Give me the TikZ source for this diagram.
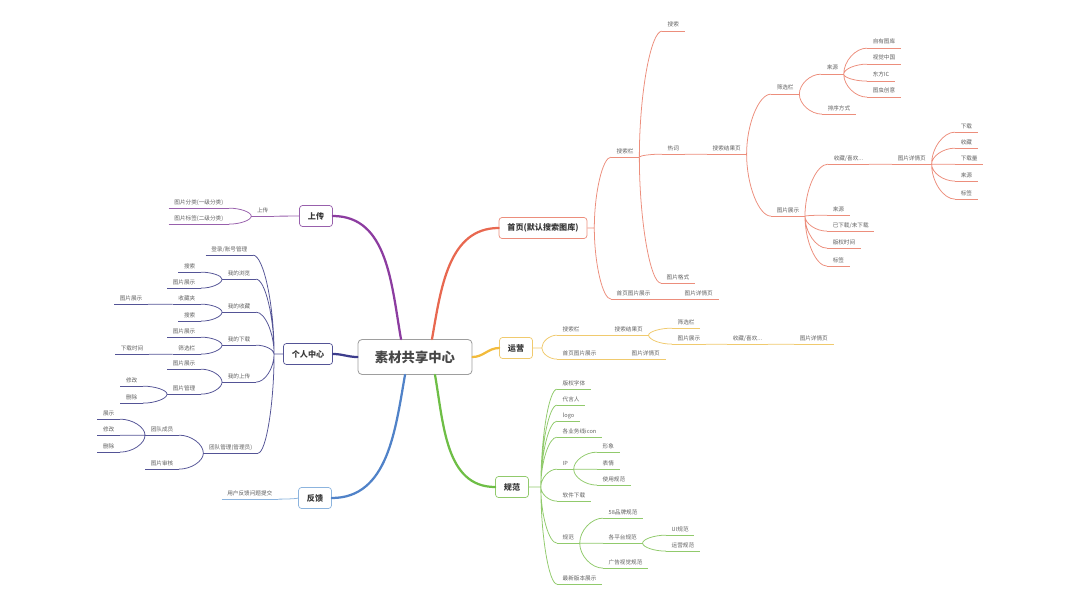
\documentclass[tikz,border=0pt]{standalone}
\usepackage{fontspec}
\setmainfont{Noto Sans CJK SC}
\usetikzlibrary{calc}

\definecolor{txtc}{RGB}{95,95,95}
\definecolor{homec}{RGB}{232,104,80}
\definecolor{homel}{RGB}{236,142,124}
\definecolor{opsc}{RGB}{242,187,60}
\definecolor{opsl}{RGB}{240,202,110}
\definecolor{stdc}{RGB}{110,190,70}
\definecolor{stdl}{RGB}{145,202,108}
\definecolor{uplc}{RGB}{140,60,160}
\definecolor{upll}{RGB}{152,96,172}
\definecolor{mec}{RGB}{60,60,140}
\definecolor{mel}{RGB}{84,84,150}
\definecolor{fbc}{RGB}{80,130,200}
\definecolor{fbl}{RGB}{140,180,222}

\tikzset{
  leaf/.style={font=\fontsize{8}{9}\selectfont, text=txtc,
    inner xsep=0.28cm, inner ysep=0.15cm, text height=0.25cm, text depth=0.05cm,
    append after command={(\tikzlastnode.south west) edge[draw=#1, line width=1.1pt] (\tikzlastnode.south east)}},
  rleaf/.style={leaf=#1, anchor=west},
  lleaf/.style={leaf=#1, anchor=east},
  elbow/.style={to path={.. controls ($(\tikztostart)!0.5!(\tikztostart |- \tikztotarget)$)
      and ($(\tikztostart |- \tikztotarget)!0.5!(\tikztotarget)$) .. (\tikztotarget)}},
  sub/.style={draw=#1, line width=1.1pt},
  mainline/.style={draw=#1, line width=3.2pt, line cap=round},
  branch/.style={draw=#1, line width=1pt, fill=white, rounded corners=0.15cm,
    font=\fontsize{11.5}{12}\selectfont\bfseries, text=black!78,
    inner xsep=0.42cm, minimum height=1.05cm},
  hub/.style={draw=black!38, line width=1.2pt, fill=white, rounded corners=0.2cm,
    font=\fontsize{19}{20}\selectfont\bfseries, text=black!72,
    minimum width=5.7cm, minimum height=1.75cm}
}

\begin{document}
\begin{tikzpicture}[x=0.05cm, y=-0.05cm]
  \path[use as bounding box] (0,0) rectangle (1080,603);

  % Center and branches
  \node[hub] (ctr) at (415,357) {素材共享中心};
  \node[branch=homel] (home) at (543,228) {首页(默认搜索图库)};
  \node[branch=opsl] (ops) at (516,348) {运营};
  \node[branch=stdl] (std) at (512,487) {规范};
  \node[branch=upll] (upl) at (316,216) {上传};
  \node[branch=mel] (me) at (308,354) {个人中心};
  \node[branch=fbl] (fb) at (315,498) {反馈};

  \draw[mainline=homec] ([xshift=0.85cm]ctr.north) to[out=80,in=180] (home.west);
  \draw[mainline=uplc] ([xshift=-0.7cm]ctr.north) to[out=100,in=0] (upl.east);
  \draw[mainline=mec] (ctr.west) to[out=180,in=0] (me.east);
  \draw[mainline=opsc] (ctr.east) to[out=0,in=180] (ops.west);
  \draw[mainline=fbc] ([xshift=-0.5cm]ctr.south) to[out=-100,in=0] (fb.east);
  \draw[mainline=stdc] ([xshift=1cm]ctr.south) to[out=-80,in=180] (std.west);

  \coordinate (homej) at ([xshift=0.35cm]home.east);
  \coordinate (opsj) at ([xshift=0.45cm]ops.east);
  \coordinate (stdj) at ([xshift=0.6cm]std.east);
  \coordinate (mej) at ([xshift=-0.45cm]me.west);

  % 首页
  \node[rleaf=homel] (hbar) at (611,151) {搜索栏};
  \node[rleaf=homel] (hsearch) at (662,25) {搜索};
  \node[rleaf=homel] (hhot) at (662,148) {热词};
  \node[rleaf=homel] (hres) at (707,148) {搜索结果页};
  \node[rleaf=homel] (hfilter) at (771,88) {筛选栏};
  \node[rleaf=homel] (hsrc) at (821,68) {来源};
  \node[rleaf=homel] (hsrc1) at (867,42) {自有图库};
  \node[rleaf=homel] (hsrc2) at (867,58) {视觉中国};
  \node[rleaf=homel] (hsrc3) at (867,75) {东方IC};
  \node[rleaf=homel] (hsrc4) at (867,91) {图虫创意};
  \node[rleaf=homel] (hsort) at (822,108) {排序方式};
  \node[rleaf=homel] (hshow) at (771,210) {图片展示};
  \node[rleaf=homel] (hfav) at (828,158) {收藏/喜欢...};
  \node[rleaf=homel] (hdet) at (892,158) {图片详情页};
  \node[rleaf=homel] (hd1) at (955,126) {下载};
  \node[rleaf=homel] (hd2) at (955,142) {收藏};
  \node[rleaf=homel] (hd3) at (955,158) {下载量};
  \node[rleaf=homel] (hd4) at (955,175) {来源};
  \node[rleaf=homel] (hd5) at (955,193) {标签};
  \node[rleaf=homel] (hs1) at (827,209) {来源};
  \node[rleaf=homel] (hs2) at (827,225) {已下载/未下载};
  \node[rleaf=homel] (hs3) at (827,242) {版权时间};
  \node[rleaf=homel] (hs4) at (827,260) {标签};
  \node[rleaf=homel] (hfmt) at (661,277) {图片格式};
  \node[rleaf=homel] (hhome) at (611,293) {首页图片展示};
  \node[rleaf=homel] (hhdet) at (679,293) {图片详情页};

  \draw[sub=homel] (home.east) -- (homej)
    (homej) to[elbow] (hbar.south west)
    (homej) to[elbow] (hhome.south west);
  \draw[sub=homel] (hbar.south east) to[elbow] (hsearch.south west)
    (hbar.south east) to[elbow] (hhot.south west)
    (hbar.south east) to[elbow] (hfmt.south west);
  \draw[sub=homel] (hhot.south east) to[elbow] (hres.south west);
  \draw[sub=homel] (hres.south east) to[elbow] (hfilter.south west)
    (hres.south east) to[elbow] (hshow.south west);
  \draw[sub=homel] (hfilter.south east) to[elbow] (hsrc.south west)
    (hfilter.south east) to[elbow] (hsort.south west);
  \draw[sub=homel] (hsrc.south east) to[elbow] (hsrc1.south west)
    (hsrc.south east) to[elbow] (hsrc2.south west)
    (hsrc.south east) to[elbow] (hsrc3.south west)
    (hsrc.south east) to[elbow] (hsrc4.south west);
  \draw[sub=homel] (hshow.south east) to[elbow] (hfav.south west)
    (hshow.south east) to[elbow] (hs1.south west)
    (hshow.south east) to[elbow] (hs2.south west)
    (hshow.south east) to[elbow] (hs3.south west)
    (hshow.south east) to[elbow] (hs4.south west);
  \draw[sub=homel] (hfav.south east) to[elbow] (hdet.south west);
  \draw[sub=homel] (hdet.south east) to[elbow] (hd1.south west)
    (hdet.south east) to[elbow] (hd2.south west)
    (hdet.south east) to[elbow] (hd3.south west)
    (hdet.south east) to[elbow] (hd4.south west)
    (hdet.south east) to[elbow] (hd5.south west);
  \draw[sub=homel] (hhome.south east) to[elbow] (hhdet.south west);

  % 运营
  \node[rleaf=opsl] (obar) at (557,329) {搜索栏};
  \node[rleaf=opsl] (ores) at (609,329) {搜索结果页};
  \node[rleaf=opsl] (ofilter) at (672,322) {筛选栏};
  \node[rleaf=opsl] (oshow) at (672,338) {图片展示};
  \node[rleaf=opsl] (ofav) at (727,338) {收藏/喜欢...};
  \node[rleaf=opsl] (odet) at (794,338) {图片详情页};
  \node[rleaf=opsl] (ohome) at (557,353) {首页图片展示};
  \node[rleaf=opsl] (ohdet) at (626,353) {图片详情页};

  \draw[sub=opsl] (ops.east) -- (opsj)
    (opsj) to[elbow] (obar.south west)
    (opsj) to[elbow] (ohome.south west);
  \draw[sub=opsl] (obar.south east) to[elbow] (ores.south west);
  \draw[sub=opsl] (ores.south east) to[elbow] (ofilter.south west)
    (ores.south east) to[elbow] (oshow.south west);
  \draw[sub=opsl] (oshow.south east) to[elbow] (ofav.south west);
  \draw[sub=opsl] (ofav.south east) to[elbow] (odet.south west);
  \draw[sub=opsl] (ohome.south east) to[elbow] (ohdet.south west);

  % 规范
  \node[rleaf=stdl] (s1) at (557,383) {版权字体};
  \node[rleaf=stdl] (s2) at (557,399) {代言人};
  \node[rleaf=stdl] (s3) at (557,415) {logo};
  \node[rleaf=stdl] (s4) at (557,431) {各业务线icon};
  \node[rleaf=stdl] (s5) at (557,463) {IP};
  \node[rleaf=stdl] (s51) at (597,446) {形象};
  \node[rleaf=stdl] (s52) at (597,463) {表情};
  \node[rleaf=stdl] (s53) at (597,479) {使用规范};
  \node[rleaf=stdl] (s6) at (557,495) {软件下载};
  \node[rleaf=stdl] (s7) at (557,537) {规范};
  \node[rleaf=stdl] (s71) at (603,512) {58品牌规范};
  \node[rleaf=stdl] (s72) at (603,537) {各平台规范};
  \node[rleaf=stdl] (s721) at (666,529) {UI规范};
  \node[rleaf=stdl] (s722) at (666,545) {运营规范};
  \node[rleaf=stdl] (s73) at (603,562) {广告视觉规范};
  \node[rleaf=stdl] (s8) at (557,578) {最新版本展示};

  \draw[sub=stdl] (std.east) -- (stdj)
    (stdj) to[elbow] (s1.south west)
    (stdj) to[elbow] (s2.south west)
    (stdj) to[elbow] (s3.south west)
    (stdj) to[elbow] (s4.south west)
    (stdj) to[elbow] (s5.south west)
    (stdj) to[elbow] (s6.south west)
    (stdj) to[elbow] (s7.south west)
    (stdj) to[elbow] (s8.south west);
  \draw[sub=stdl] (s5.south east) to[elbow] (s51.south west)
    (s5.south east) to[elbow] (s52.south west)
    (s5.south east) to[elbow] (s53.south west);
  \draw[sub=stdl] (s7.south east) to[elbow] (s71.south west)
    (s7.south east) to[elbow] (s72.south west)
    (s7.south east) to[elbow] (s73.south west);
  \draw[sub=stdl] (s72.south east) to[elbow] (s721.south west)
    (s72.south east) to[elbow] (s722.south west);

  % 上传
  \node[lleaf=upll] (uup) at (274,210) {上传};
  \node[lleaf=upll] (uc1) at (229,202) {图片分类(一级分类)};
  \node[lleaf=upll] (uc2) at (229,218) {图片标签(二级分类)};

  \draw[sub=upll] (upl.west) to[elbow] (uup.south east);
  \draw[sub=upll] (uup.south west) to[elbow] (uc1.south east)
    (uup.south west) to[elbow] (uc2.south east);

  % 个人中心
  \node[lleaf=mel] (m1) at (253,249) {登录/账号管理};
  \node[lleaf=mel] (m2) at (256,273) {我的浏览};
  \node[lleaf=mel] (m21) at (201,266) {搜索};
  \node[lleaf=mel] (m22) at (201,282) {图片展示};
  \node[lleaf=mel] (m3) at (256,306) {我的收藏};
  \node[lleaf=mel] (m31) at (201,298) {收藏夹};
  \node[lleaf=mel] (m311) at (148,298) {图片展示};
  \node[lleaf=mel] (m32) at (201,315) {搜索};
  \node[lleaf=mel] (m4) at (256,339) {我的下载};
  \node[lleaf=mel] (m41) at (201,331) {图片展示};
  \node[lleaf=mel] (m42) at (201,348) {筛选栏};
  \node[lleaf=mel] (m421) at (149,348) {下载时间};
  \node[lleaf=mel] (m5) at (256,376) {我的上传};
  \node[lleaf=mel] (m51) at (201,363) {图片展示};
  \node[lleaf=mel] (m52) at (201,388) {图片管理};
  \node[lleaf=mel] (m521) at (143,380) {修改};
  \node[lleaf=mel] (m522) at (143,397) {删除};
  \node[lleaf=mel] (m6) at (258,447) {团队管理(管理员)};
  \node[lleaf=mel] (m61) at (179,429) {团队成员};
  \node[lleaf=mel] (m611) at (120,413) {展示};
  \node[lleaf=mel] (m612) at (120,429) {修改};
  \node[lleaf=mel] (m613) at (120,446) {删除};
  \node[lleaf=mel] (m62) at (179,463) {图片审核};

  \draw[sub=mel] (me.west) -- (mej)
    (mej) to[elbow] (m1.south east)
    (mej) to[elbow] (m2.south east)
    (mej) to[elbow] (m3.south east)
    (mej) to[elbow] (m4.south east)
    (mej) to[elbow] (m5.south east)
    (mej) to[elbow] (m6.south east);
  \draw[sub=mel] (m2.south west) to[elbow] (m21.south east)
    (m2.south west) to[elbow] (m22.south east);
  \draw[sub=mel] (m3.south west) to[elbow] (m31.south east)
    (m3.south west) to[elbow] (m32.south east);
  \draw[sub=mel] (m31.south west) to[elbow] (m311.south east);
  \draw[sub=mel] (m4.south west) to[elbow] (m41.south east)
    (m4.south west) to[elbow] (m42.south east);
  \draw[sub=mel] (m42.south west) to[elbow] (m421.south east);
  \draw[sub=mel] (m5.south west) to[elbow] (m51.south east)
    (m5.south west) to[elbow] (m52.south east);
  \draw[sub=mel] (m52.south west) to[elbow] (m521.south east)
    (m52.south west) to[elbow] (m522.south east);
  \draw[sub=mel] (m6.south west) to[elbow] (m61.south east)
    (m6.south west) to[elbow] (m62.south east);
  \draw[sub=mel] (m61.south west) to[elbow] (m611.south east)
    (m61.south west) to[elbow] (m612.south east)
    (m61.south west) to[elbow] (m613.south east);

  % 反馈
  \node[lleaf=fbl] (f1) at (278,493) {用户反馈问题提交};
  \draw[sub=fbl] (fb.west) to[elbow] (f1.south east);
\end{tikzpicture}
\end{document}
